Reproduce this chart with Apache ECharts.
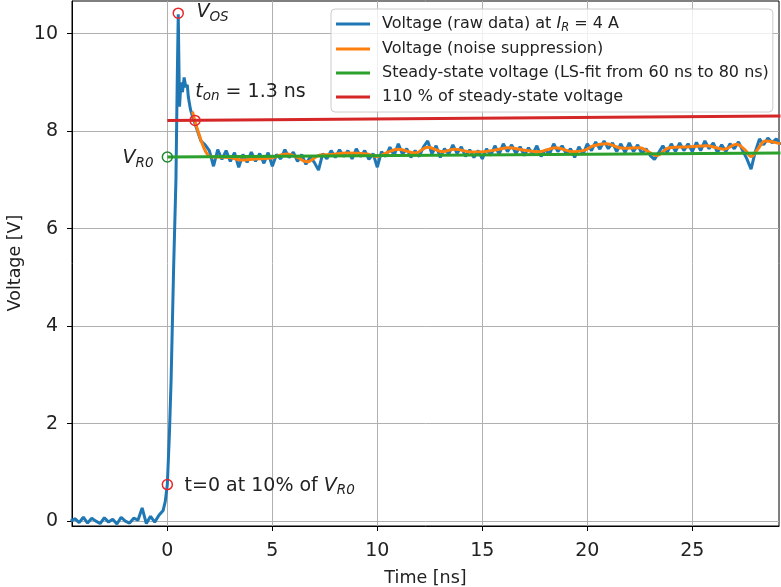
<!DOCTYPE html>
<html><head><meta charset="utf-8">
<script src="https://cdn.jsdelivr.net/npm/echarts@6/dist/echarts.min.js"></script>
<style>html,body{margin:0;padding:0;background:#fff}#c{width:781px;height:587px}</style>
</head><body><div id="c"></div>
<script>
// ---- data ----
const xTicks = [0, 5, 10, 15, 20, 25];
const yTicks = [0, 2, 4, 6, 8, 10];

// raw data, pre-trigger (sampling 0.2 ns)
const preStart = -4.6, preStep = 0.2;
const preVolt = [0.0, 0.05, -0.03, 0.08, -0.04, 0.06, 0.0, -0.05, 0.07, -0.02, 0.04, -0.06, 0.08, 0.0, -0.04, 0.06, 0.02, 0.27, -0.05, 0.1, -0.02, 0.12, 0.22];
// raw data, rising edge
const riseTime = [-0.1, 0.0, 0.1, 0.18, 0.3, 0.41, 0.47, 0.52, 0.58, 0.65, 0.72, 0.8, 0.88, 0.95, 1.0, 1.1];
const riseVolt = [0.4, 0.75, 1.8, 2.9, 5.2, 7.0, 9.0, 10.4, 8.5, 9.0, 8.8, 9.1, 8.9, 8.95, 8.7, 8.45];
// raw data, after switching (sampling 0.2 ns)
const postStart = 1.2, postStep = 0.2;
const postVolt = [8.30, 8.05, 7.80, 7.72, 7.60, 7.28, 7.62, 7.42, 7.60, 7.38,
  7.56, 7.26, 7.52, 7.36, 7.57, 7.38, 7.54, 7.34, 7.56, 7.28,
  7.52, 7.43, 7.62, 7.46, 7.57, 7.38, 7.52, 7.32, 7.47, 7.36,
  7.20, 7.54, 7.43, 7.60, 7.46, 7.62, 7.48, 7.60, 7.43, 7.64,
  7.48, 7.60, 7.42, 7.54, 7.26, 7.58, 7.48, 7.67, 7.50, 7.74,
  7.53, 7.64, 7.46, 7.60, 7.48, 7.68, 7.80, 7.53, 7.70, 7.46,
  7.64, 7.53, 7.72, 7.54, 7.68, 7.48, 7.62, 7.46, 7.60, 7.43,
  7.64, 7.50, 7.70, 7.53, 7.74, 7.58, 7.72, 7.54, 7.68, 7.50,
  7.66, 7.53, 7.70, 7.48, 7.62, 7.53, 7.74, 7.58, 7.70, 7.53,
  7.64, 7.46, 7.68, 7.53, 7.74, 7.60, 7.78, 7.63, 7.80, 7.64,
  7.76, 7.58, 7.74, 7.56, 7.76, 7.58, 7.72, 7.54, 7.64, 7.50,
  7.42, 7.56, 7.70, 7.56, 7.74, 7.58, 7.76, 7.60, 7.74, 7.58,
  7.77, 7.60, 7.80, 7.64, 7.76, 7.56, 7.72, 7.58, 7.74, 7.64,
  7.78, 7.60, 7.43, 7.22, 7.58, 7.84, 7.72, 7.86, 7.76, 7.84, 7.72];

// noise-suppressed voltage
const smoothTime = [1.2, 1.32, 1.5, 1.7, 1.9, 2.1, 2.5, 3.0, 3.5, 4.2, 4.9, 5.7, 6.2, 6.65, 7.27, 7.8, 8.55, 9.5, 10.0, 10.4, 11.0, 11.8, 12.4, 13.1, 13.7, 14.5, 15.1, 15.7, 16.24, 17.0, 17.7, 18.5, 19.3, 19.8, 20.3, 20.9, 21.7, 22.5, 22.9, 23.3, 23.9, 24.9, 25.7, 26.5, 27.1, 27.5, 27.8, 28.1, 28.5, 29.2];
const smoothVolt = [8.40, 8.20, 7.95, 7.70, 7.53, 7.47, 7.47, 7.46, 7.41, 7.43, 7.45, 7.53, 7.46, 7.37, 7.51, 7.52, 7.55, 7.53, 7.48, 7.55, 7.63, 7.55, 7.67, 7.58, 7.63, 7.57, 7.58, 7.62, 7.66, 7.61, 7.58, 7.66, 7.58, 7.60, 7.70, 7.74, 7.65, 7.66, 7.58, 7.50, 7.66, 7.68, 7.70, 7.63, 7.73, 7.62, 7.48, 7.62, 7.80, 7.74];

// steady-state fit and 110 % line
const fitTime = [0, 29.2];
const steadyVolt = [7.47, 7.55];
const limitVolt = [8.22, 8.31];

// marked points
const markTime = [0.52, 1.32, 0.0];
const markVolt = [10.42, 8.22, 0.75];
const r0Time = [0.0];
const r0Volt = [7.47];

const names = [
  'Voltage (raw data) at I_R = 4 A',
  'Voltage (noise suppression)',
  'Steady-state voltage (LS-fit from 60 ns to 80 ns)',
  '110 % of steady-state voltage'
];

// ---- build series data ----
const rawData = [];
preVolt.forEach((v, i) => rawData.push([preStart + i * preStep, v]));
riseTime.forEach((t, i) => rawData.push([t, riseVolt[i]]));
postVolt.forEach((v, i) => rawData.push([postStart + i * postStep, v]));
const smoothData = smoothTime.map((t, i) => [t, smoothVolt[i]]);
const steadyData = fitTime.map((t, i) => [t, steadyVolt[i]]);
const limitData = fitTime.map((t, i) => [t, limitVolt[i]]);

const FONT = 'DejaVu Sans';
const TXT = '#222';
const rich = {
  n: { fontFamily: FONT, fontSize: 19, color: TXT },
  i: { fontFamily: FONT, fontSize: 19, color: TXT, fontStyle: 'italic' },
  s: { fontFamily: FONT, fontSize: 13.5, color: TXT, fontStyle: 'italic', padding: [10, 0, 0, 0] }
};
const legRich = {
  g: { width: 7 },
  n: { fontFamily: FONT, fontSize: 16, color: TXT },
  i: { fontFamily: FONT, fontSize: 16, color: TXT, fontStyle: 'italic' },
  s: { fontFamily: FONT, fontSize: 11.5, color: TXT, fontStyle: 'italic', padding: [8, 0, 0, 0] }
};

const markLabels = [
  { text: '{i|V}{s|OS}', position: [24, -7] },
  { text: '{i|t}{s|on}{n| = 1.3 ns}', position: [6, -35] },
  { text: '{n|t=0 at 10% of }{i|V}{s|R0}', position: [23, -5] }
];

const chart = echarts.init(document.getElementById('c'), null, { renderer: 'canvas' });
chart.setOption({
  animation: false,
  backgroundColor: '#fff',
  grid: { left: 72, right: 2, top: 1, bottom: 61, outerBoundsMode: 'none', containLabel: false, show: true, borderColor: '#000', borderWidth: 1, backgroundColor: 'transparent' },
  graphic: [{
    type: 'text', x: 6, y: 263, rotation: Math.PI / 2,
    style: { text: 'Voltage [V]', fontFamily: FONT, fontSize: 17.5, fill: TXT, align: 'center', verticalAlign: 'top' }
  }],
  xAxis: {
    type: 'value', min: -4.54, max: 29.13,
    name: 'Time [ns]', nameLocation: 'middle', nameGap: 43,
    nameTextStyle: { fontFamily: FONT, fontSize: 17.5, color: TXT },
    axisLine: { show: true, onZero: false, lineStyle: { color: '#000' } },
    axisTick: { show: true, inside: false, length: 5, customValues: xTicks, lineStyle: { color: '#000' } },
    axisLabel: { customValues: xTicks, fontFamily: FONT, fontSize: 19, color: TXT, margin: 16 },
    splitLine: { show: true, lineStyle: { color: '#b0b0b0', width: 1 } }
  },
  yAxis: {
    type: 'value', min: -0.1, max: 10.67,
    axisLine: { show: true, onZero: false, lineStyle: { color: '#000' } },
    axisTick: { show: true, inside: false, length: 5, customValues: yTicks, lineStyle: { color: '#000' } },
    axisLabel: { customValues: yTicks, fontFamily: FONT, fontSize: 19, color: TXT, margin: 14 },
    splitLine: { show: true, lineStyle: { color: '#b0b0b0', width: 1 } }
  },
  legend: {
    orient: 'vertical', left: 331, top: 9,
    data: names,
    icon: 'rect', itemWidth: 34, itemHeight: 3, itemGap: 6,
    padding: [6, 4, 6, 5],
    backgroundColor: 'rgba(255,255,255,0.8)', borderColor: '#cccccc', borderWidth: 1, borderRadius: 4,
    textStyle: { fontFamily: FONT, fontSize: 16, color: TXT, lineHeight: 18, rich: legRich },
    formatter: function (name) {
      if (name === names[0]) return '{g| }{n|Voltage (raw data) at }{i|I}{s|R}{n| = 4 A}';
      return '{g| }{n|' + name + '}';
    }
  },
  series: [
    { name: names[0], type: 'line', data: rawData, showSymbol: false, symbol: 'none', lineStyle: { color: '#1f77b4', width: 3 }, itemStyle: { color: '#1f77b4' }, z: 2 },
    { name: names[1], type: 'line', data: smoothData, smooth: 0.4, showSymbol: false, symbol: 'none', lineStyle: { color: '#ff7f0e', width: 3 }, itemStyle: { color: '#ff7f0e' }, z: 3 },
    { name: names[2], type: 'line', data: steadyData, showSymbol: false, symbol: 'none', lineStyle: { color: '#2ca02c', width: 3 }, itemStyle: { color: '#2ca02c' }, z: 4 },
    { name: names[3], type: 'line', data: limitData, showSymbol: false, symbol: 'none', lineStyle: { color: '#d62728', width: 3 }, itemStyle: { color: '#d62728' }, z: 5 },
    {
      type: 'scatter', z: 6, symbol: 'circle', symbolSize: 10,
      itemStyle: { color: 'rgba(0,0,0,0)', borderColor: '#e8262a', borderWidth: 1.5, opacity: 1 },
      data: markTime.map((t, i) => ({
        value: [t, markVolt[i]],
        label: { show: true, position: markLabels[i].position, formatter: markLabels[i].text, rich: rich }
      }))
    },
    {
      type: 'scatter', z: 6, symbol: 'circle', symbolSize: 10,
      itemStyle: { color: 'rgba(0,0,0,0)', borderColor: '#1e8a2e', borderWidth: 1.5, opacity: 1 },
      data: r0Time.map((t, i) => ({
        value: [t, r0Volt[i]],
        label: { show: true, position: [-8, -5], align: 'right', formatter: '{i|V}{s|R0}', rich: rich }
      }))
    }
  ]
});
</script>
</body></html>
